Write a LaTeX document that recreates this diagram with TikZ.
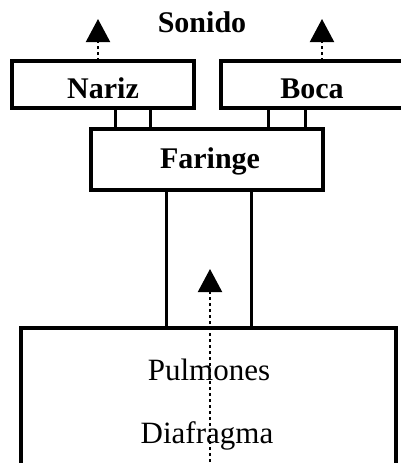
\documentclass[tikz,border=0pt]{standalone}
\usepackage{fontspec}
\setmainfont{Liberation Serif}
\usetikzlibrary{arrows.meta}
\begin{document}
\begin{tikzpicture}[x=1pt,y=-1pt,
  box/.style={draw, line width=4pt, rectangle, inner sep=0pt, outer sep=0pt},
  link/.style={line width=3pt},
  flow/.style={line width=2pt, dash pattern=on 3pt off 3pt,
    -{Triangle[width=24pt,length=23pt]}},
  boldlabel/.style={font=\fontsize{30}{30}\selectfont\bfseries, inner sep=0pt, anchor=base},
  plainlabel/.style={font=\fontsize{31}{31}\selectfont, inner sep=0pt, anchor=base}]
\useasboundingbox (0,0) rectangle (400,463);

% organs
\node[box, minimum width=182pt, minimum height=47pt] (nariz) at (103,84.5) {};
\node[box, minimum width=182pt, minimum height=47pt] (boca) at (312,84.5) {};
\node[box, minimum width=232pt, minimum height=61pt] (faringe) at (207,159.5) {};
\node[box, minimum width=375pt, minimum height=152pt] (lungs) at (208.5,404) {};

% labels
\node[boldlabel] (sonido) at (202,32) {Sonido};
\node[boldlabel] (tnariz) at (103,98) {Nariz};
\node[boldlabel] (tboca) at (312,98) {Boca};
\node[boldlabel] (tfaringe) at (210,168) {Faringe};
\node[plainlabel] (tpulmones) at (209,380) {Pulmones};
\node[plainlabel] (tdiafragma) at (207,443) {Diafragma};

% passages between the cavities
\draw[link] (nariz.south -| 115.5,0) -- (faringe.north -| 115.5,0);
\draw[link] (nariz.south -| 150,0) -- (faringe.north -| 150,0);
\draw[link] (boca.south -| 268,0) -- (faringe.north -| 268,0);
\draw[link] (boca.south -| 305,0) -- (faringe.north -| 305,0);

% trachea
\draw[link] (faringe.south -| 166.5,0) -- (lungs.north -| 166.5,0);
\draw[link] (faringe.south -| 251,0) -- (lungs.north -| 251,0);

% air flow
\coordinate (noseout) at (98,19);
\coordinate (mouthout) at (322,19);
\coordinate (airup) at (210,269);
\draw[flow] (nariz.north -| noseout) -- (noseout);
\draw[flow] (boca.north -| mouthout) -- (mouthout);
\draw[flow] (lungs.south -| airup) -- (airup);
\end{tikzpicture}
\end{document}
